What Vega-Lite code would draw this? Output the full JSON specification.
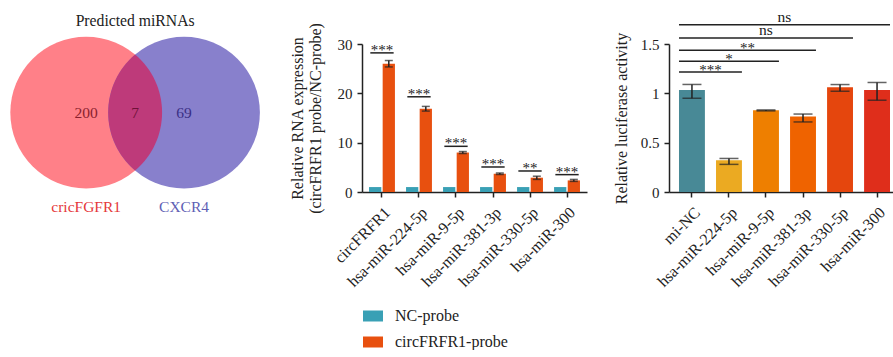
{
  "$schema": "https://vega.github.io/schema/vega-lite/v6.json",
  "padding": {"left": 0, "top": 9, "right": 0, "bottom": 0},
  "background": "white",
  "bounds": "flush",
  "spacing": 82,
  "datasets": {
    "venn": [
      {"region": "cricFGFR1", "center": 0, "count": "200", "label": "cricFGFR1"},
      {"region": "CXCR4", "center": 1, "count": "69", "label": "CXCR4"},
      {"region": "both", "center": 0.5, "count": "7", "label": ""}
    ],
    "expr": [
      {"target": "circFRFR1", "probe": "NC-probe", "value": 1.0},
      {"target": "circFRFR1", "probe": "circFRFR1-probe", "value": 26.0, "lo": 25.35, "hi": 26.65},
      {"target": "hsa-miR-224-5p", "probe": "NC-probe", "value": 1.0},
      {"target": "hsa-miR-224-5p", "probe": "circFRFR1-probe", "value": 16.9, "lo": 16.4, "hi": 17.35},
      {"target": "hsa-miR-9-5p", "probe": "NC-probe", "value": 1.0},
      {"target": "hsa-miR-9-5p", "probe": "circFRFR1-probe", "value": 8.0, "lo": 7.8, "hi": 8.2},
      {"target": "hsa-miR-381-3p", "probe": "NC-probe", "value": 1.0},
      {"target": "hsa-miR-381-3p", "probe": "circFRFR1-probe", "value": 3.7, "lo": 3.55, "hi": 3.85},
      {"target": "hsa-miR-330-5p", "probe": "NC-probe", "value": 1.0},
      {"target": "hsa-miR-330-5p", "probe": "circFRFR1-probe", "value": 2.9, "lo": 2.55, "hi": 3.2},
      {"target": "hsa-miR-300", "probe": "NC-probe", "value": 1.0},
      {"target": "hsa-miR-300", "probe": "circFRFR1-probe", "value": 2.35, "lo": 2.15, "hi": 2.55}
    ],
    "expr_sig": [
      {"target": "circFRFR1", "y": 28.2, "label": "***"},
      {"target": "hsa-miR-224-5p", "y": 19.3, "label": "***"},
      {"target": "hsa-miR-9-5p", "y": 9.26, "label": "***"},
      {"target": "hsa-miR-381-3p", "y": 5.07, "label": "***"},
      {"target": "hsa-miR-330-5p", "y": 4.26, "label": "**"},
      {"target": "hsa-miR-300", "y": 3.52, "label": "***"}
    ],
    "luc": [
      {"target": "mi-NC", "value": 1.035, "lo": 0.95, "hi": 1.09},
      {"target": "hsa-miR-224-5p", "value": 0.322, "lo": 0.28, "hi": 0.34},
      {"target": "hsa-miR-9-5p", "value": 0.829, "lo": 0.822, "hi": 0.832},
      {"target": "hsa-miR-381-3p", "value": 0.764, "lo": 0.71, "hi": 0.79},
      {"target": "hsa-miR-330-5p", "value": 1.062, "lo": 1.021, "hi": 1.089},
      {"target": "hsa-miR-300", "value": 1.035, "lo": 0.93, "hi": 1.11}
    ],
    "luc_sig": [
      {"from": "mi-NC", "to": "hsa-miR-224-5p", "mid": 0.5, "y": 1.217, "label": "***"},
      {"from": "mi-NC", "to": "hsa-miR-9-5p", "mid": 1.0, "y": 1.326, "label": "*"},
      {"from": "mi-NC", "to": "hsa-miR-381-3p", "mid": 1.5, "y": 1.436, "label": "**"},
      {"from": "mi-NC", "to": "hsa-miR-330-5p", "mid": 2.0, "y": 1.562, "label": "ns"},
      {"from": "mi-NC", "to": "hsa-miR-300", "mid": 2.5, "y": 1.696, "label": "ns"}
    ]
  },
  "hconcat": [
    {
      "width": 280,
      "height": 148,
      "data": {"name": "venn"},
      "resolve": {"scale": {"color": "independent"}},
      "layer": [
        {
          "transform": [{"filter": "datum.region != 'both'"}],
          "mark": {"type": "point", "shape": "circle", "filled": true, "opacity": 1, "size": 23000, "strokeWidth": 0},
          "encoding": {
            "x": {"field": "center", "type": "quantitative", "scale": {"domain": [-0.88, 1.98], "nice": false, "zero": false}, "axis": null},
            "y": {"datum": 0, "type": "quantitative", "scale": {"domain": [-0.81, 0.7], "nice": false, "zero": false}, "axis": null},
            "color": {"field": "region", "type": "nominal", "scale": {"domain": ["cricFGFR1", "CXCR4"], "range": ["#FF8088", "#8880CC"]}, "legend": null}
          }
        },
        {
          "transform": [{"filter": "datum.region == 'both'"}],
          "mark": {"type": "point", "shape": "M0,-0.7648A1,1,0,0,1,0,0.7648A1,1,0,0,1,0,-0.7648Z", "filled": true, "opacity": 1, "size": 23000, "strokeWidth": 0, "color": "#BE3A7A"},
          "encoding": {
            "x": {"field": "center", "type": "quantitative", "scale": {"domain": [-0.88, 1.98], "nice": false, "zero": false}, "axis": null},
            "y": {"datum": 0, "type": "quantitative", "scale": {"domain": [-0.81, 0.7], "nice": false, "zero": false}, "axis": null}
          }
        },
        {
          "mark": {"type": "text", "fontSize": 15.5, "font": "Liberation Serif"},
          "encoding": {
            "x": {"field": "center", "type": "quantitative", "scale": {"domain": [-0.88, 1.98], "nice": false, "zero": false}, "axis": null},
            "y": {"datum": 0, "type": "quantitative", "scale": {"domain": [-0.81, 0.7], "nice": false, "zero": false}, "axis": null},
            "text": {"field": "count"},
            "color": {"field": "region", "type": "nominal", "scale": {"domain": ["cricFGFR1", "CXCR4", "both"], "range": ["#8A1F2E", "#3A2F85", "#6E1238"]}, "legend": null}
          }
        },
        {
          "transform": [{"filter": "datum.region != 'both'"}],
          "mark": {"type": "text", "fontSize": 15.5, "font": "Liberation Serif"},
          "encoding": {
            "x": {"field": "center", "type": "quantitative", "scale": {"domain": [-0.88, 1.98], "nice": false, "zero": false}, "axis": null},
            "y": {"datum": -0.963, "type": "quantitative", "scale": {"domain": [-0.81, 0.7], "nice": false, "zero": false}, "axis": null},
            "text": {"field": "label"},
            "color": {"field": "region", "type": "nominal", "scale": {"domain": ["cricFGFR1", "CXCR4"], "range": ["#E5383A", "#5E5EB4"]}, "legend": null}
          }
        },
        {
          "data": {"values": [{"title": "Predicted miRNAs"}]},
          "mark": {"type": "text", "fontSize": 15.7, "font": "Liberation Serif", "color": "#222222"},
          "encoding": {
            "x": {"datum": 0.5, "type": "quantitative", "scale": {"domain": [-0.88, 1.98], "nice": false, "zero": false}, "axis": null},
            "y": {"datum": 0.93, "type": "quantitative", "scale": {"domain": [-0.81, 0.7], "nice": false, "zero": false}, "axis": null},
            "text": {"field": "title"}
          }
        }
      ]
    },
    {
      "width": 225,
      "height": 148,
      "layer": [
        {
          "data": {"name": "expr"},
          "mark": {"type": "bar"},
          "encoding": {
            "x": {"field": "target", "type": "nominal", "sort": null, "scale": {"domain": ["circFRFR1", "hsa-miR-224-5p", "hsa-miR-9-5p", "hsa-miR-381-3p", "hsa-miR-330-5p", "hsa-miR-300"], "paddingInner": 0.3, "paddingOuter": 0.19}, "axis": {"title": null, "labelAngle": -45, "labelPadding": 7, "labelFontSize": 16}},
            "xOffset": {"field": "probe", "type": "nominal", "sort": ["NC-probe", "circFRFR1-probe"], "scale": {"domain": ["NC-probe", "circFRFR1-probe"], "paddingInner": 0.1, "paddingOuter": 0}},
            "y": {"field": "value", "type": "quantitative", "scale": {"domain": [0, 30], "nice": false}, "axis": {"values": [0, 10, 20, 30], "title": ["Relative RNA expression", "(circFRFR1 probe/NC-probe)"], "labelPadding": 5, "titlePadding": 14}},
            "color": {
              "field": "probe", "type": "nominal",
              "scale": {"domain": ["NC-probe", "circFRFR1-probe"], "range": ["#39A0B5", "#E8500F"]},
              "legend": {"orient": "none", "legendX": 1, "legendY": 262, "direction": "vertical", "title": null, "symbolType": "M-1,-0.55H1V0.55H-1Z", "symbolSize": 400, "symbolStrokeWidth": 0, "labelFontSize": 16, "labelOffset": 12, "rowPadding": 8, "padding": 0}
            }
          }
        },
        {
          "data": {"name": "expr"},
          "transform": [{"filter": "isValid(datum.lo)"}],
          "mark": {"type": "rule", "color": "#222222", "strokeWidth": 1.5},
          "encoding": {
            "x": {"field": "target", "type": "nominal", "sort": null},
            "xOffset": {"field": "probe", "type": "nominal", "sort": ["NC-probe", "circFRFR1-probe"]},
            "y": {"field": "lo", "type": "quantitative", "scale": {"domain": [0, 30], "nice": false}},
            "y2": {"field": "hi"}
          }
        },
        {
          "data": {"name": "expr"},
          "transform": [{"filter": "isValid(datum.lo)"}],
          "mark": {"type": "tick", "color": "#222222", "thickness": 1.5, "size": 8, "orient": "horizontal"},
          "encoding": {
            "x": {"field": "target", "type": "nominal", "sort": null},
            "xOffset": {"field": "probe", "type": "nominal", "sort": ["NC-probe", "circFRFR1-probe"]},
            "y": {"field": "lo", "type": "quantitative", "scale": {"domain": [0, 30], "nice": false}}
          }
        },
        {
          "data": {"name": "expr"},
          "transform": [{"filter": "isValid(datum.hi)"}],
          "mark": {"type": "tick", "color": "#222222", "thickness": 1.5, "size": 8, "orient": "horizontal"},
          "encoding": {
            "x": {"field": "target", "type": "nominal", "sort": null},
            "xOffset": {"field": "probe", "type": "nominal", "sort": ["NC-probe", "circFRFR1-probe"]},
            "y": {"field": "hi", "type": "quantitative", "scale": {"domain": [0, 30], "nice": false}}
          }
        },
        {
          "data": {"name": "expr_sig"},
          "mark": {"type": "rule", "color": "#222222", "strokeWidth": 1.5},
          "encoding": {
            "x": {"field": "target", "type": "nominal", "sort": null, "bandPosition": 0.05},
            "x2": {"field": "target", "bandPosition": 0.95},
            "y": {"field": "y", "type": "quantitative", "scale": {"domain": [0, 30], "nice": false}}
          }
        },
        {
          "data": {"name": "expr_sig"},
          "mark": {"type": "text", "fontSize": 15, "font": "Liberation Serif", "color": "#222222", "baseline": "alphabetic", "dy": 2},
          "encoding": {
            "x": {"field": "target", "type": "nominal", "sort": null},
            "y": {"field": "y", "type": "quantitative", "scale": {"domain": [0, 30], "nice": false}},
            "text": {"field": "label"}
          }
        }
      ]
    },
    {
      "width": 231,
      "height": 148,
      "resolve": {"scale": {"x": "independent"}},
      "layer": [
        {
          "layer": [
            {
              "data": {"name": "luc"},
              "mark": {"type": "bar"},
              "encoding": {
                "x": {"field": "target", "type": "nominal", "sort": null, "scale": {"domain": ["mi-NC", "hsa-miR-224-5p", "hsa-miR-9-5p", "hsa-miR-381-3p", "hsa-miR-330-5p", "hsa-miR-300"], "paddingInner": 0.3, "paddingOuter": 0.27}, "axis": {"title": null, "labelAngle": -45, "labelPadding": 7, "labelFontSize": 16}},
                "y": {"field": "value", "type": "quantitative", "scale": {"domain": [0, 1.5], "nice": false}, "axis": {"values": [0, 0.5, 1, 1.5], "format": "~g", "title": "Relative luciferase activity", "labelPadding": 5, "titlePadding": 11}},
                "color": {"field": "target", "type": "nominal", "scale": {"domain": ["mi-NC", "hsa-miR-224-5p", "hsa-miR-9-5p", "hsa-miR-381-3p", "hsa-miR-330-5p", "hsa-miR-300"], "range": ["#488996", "#EBAA22", "#EE7F00", "#EF6300", "#E5460D", "#DF2E1B"]}, "legend": null}
              }
            },
            {
              "data": {"name": "luc"},
              "mark": {"type": "rule", "color": "#222222", "strokeWidth": 1.5},
              "encoding": {
                "x": {"field": "target", "type": "nominal", "sort": null},
                "y": {"field": "lo", "type": "quantitative", "scale": {"domain": [0, 1.5], "nice": false}},
                "y2": {"field": "hi"}
              }
            },
            {
              "data": {"name": "luc"},
              "mark": {"type": "tick", "color": "#222222", "thickness": 1.5, "size": 19, "orient": "horizontal"},
              "encoding": {
                "x": {"field": "target", "type": "nominal", "sort": null},
                "y": {"field": "lo", "type": "quantitative", "scale": {"domain": [0, 1.5], "nice": false}}
              }
            },
            {
              "data": {"name": "luc"},
              "mark": {"type": "tick", "color": "#222222", "thickness": 1.5, "size": 19, "orient": "horizontal"},
              "encoding": {
                "x": {"field": "target", "type": "nominal", "sort": null},
                "y": {"field": "hi", "type": "quantitative", "scale": {"domain": [0, 1.5], "nice": false}}
              }
            },
            {
              "data": {"name": "luc_sig"},
              "mark": {"type": "rule", "color": "#222222", "strokeWidth": 1.5},
              "encoding": {
                "x": {"field": "from", "type": "nominal", "bandPosition": 0},
                "x2": {"field": "to", "bandPosition": 1},
                "y": {"field": "y", "type": "quantitative", "scale": {"domain": [0, 1.5], "nice": false}}
              }
            }
          ]
        },
        {
          "data": {"name": "luc_sig"},
          "transform": [{"filter": "datum.label != 'ns'"}],
          "mark": {"type": "text", "fontSize": 15, "font": "Liberation Serif", "color": "#222222", "baseline": "alphabetic", "dy": 3},
          "encoding": {
            "x": {"field": "mid", "type": "quantitative", "scale": {"domain": [-0.62, 5.62], "nice": false, "zero": false}, "axis": null},
            "y": {"field": "y", "type": "quantitative", "scale": {"domain": [0, 1.5], "nice": false}},
            "text": {"field": "label"}
          }
        },
        {
          "data": {"name": "luc_sig"},
          "transform": [{"filter": "datum.label == 'ns'"}],
          "mark": {"type": "text", "fontSize": 15.5, "font": "Liberation Serif", "color": "#222222", "baseline": "alphabetic", "dy": -3},
          "encoding": {
            "x": {"field": "mid", "type": "quantitative", "scale": {"domain": [-0.62, 5.62], "nice": false, "zero": false}, "axis": null},
            "y": {"field": "y", "type": "quantitative", "scale": {"domain": [0, 1.5], "nice": false}},
            "text": {"field": "label"}
          }
        }
      ]
    }
  ],
  "resolve": {"scale": {"color": "independent"}},
  "config": {
    "font": "Liberation Serif",
    "view": {"stroke": null},
    "axis": {
      "labelFont": "Liberation Serif", "labelFontSize": 15, "labelColor": "#222222",
      "titleFont": "Liberation Serif", "titleFontSize": 16, "titleFontWeight": "normal", "titleColor": "#222222",
      "domainColor": "#222222", "domainWidth": 1.5, "tickColor": "#222222", "tickWidth": 1.5, "tickSize": 5, "grid": false
    },
    "legend": {"labelFont": "Liberation Serif", "labelFontSize": 16, "labelColor": "#222222"},
    "text": {"font": "Liberation Serif", "fontSize": 15}
  }
}
